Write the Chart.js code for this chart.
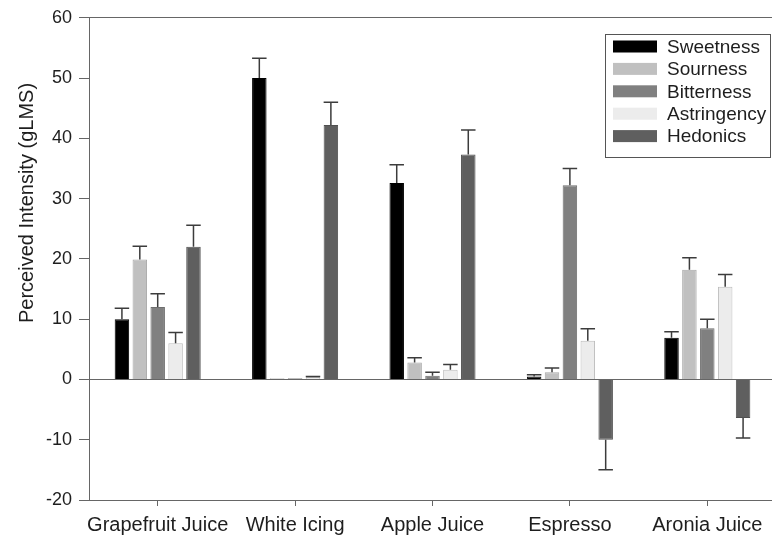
<!DOCTYPE html>
<html>
<head>
<meta charset="utf-8">
<script src="https://cdn.jsdelivr.net/npm/chart.js@4.4.1/dist/chart.umd.min.js"></script>
<style>
  html, body { margin: 0; padding: 0; background: #fff; overflow: hidden; }
  #wrap { width: 780px; height: 540px; }
</style>
</head>
<body>
<div id="wrap"><canvas id="chart"></canvas></div>
<script>
// categories and tick setup
const categories = ['Grapefruit Juice', 'White Icing', 'Apple Juice', 'Espresso', 'Aronia Juice'];
const yMin = -20;
const yMax = 60;
const yStep = 10;

// mean ratings (gLMS)
const sweetness   = [10.0, 50.0, 32.6, 0.5, 6.9];
const sourness    = [19.9, 0.2, 2.8, 1.2, 18.2];
const bitterness  = [12.0, 0.2, 0.6, 32.2, 8.5];
const astringency = [6.0, 0.4, 1.6, 6.4, 15.4];
const hedonics    = [22.0, 42.2, 37.3, -10.0, -6.4];

// error bar lengths (one-sided, drawn away from zero)
const sweetnessErr   = [1.8, 3.3, 3.0, 0.3, 1.0];
const sournessErr    = [2.2, 0, 0.8, 0.7, 2.0];
const bitternessErr  = [2.2, 0, 0.6, 2.8, 1.5];
const astringencyErr = [1.8, 0.1, 0.9, 2.0, 2.0];
const hedonicsErr    = [3.6, 3.8, 4.1, 5.0, 3.3];

Chart.defaults.font.family = 'Arial, "Liberation Sans", sans-serif';
Chart.defaults.color = '#1e1e1e';

const errorBars = {
    id: 'errorBars',
    afterDatasetsDraw(chart) {
        const { ctx } = chart;
        const y = chart.scales.y;
        ctx.save();
        ctx.strokeStyle = '#3c3c3c';
        ctx.lineWidth = 1.5;
        chart.data.datasets.forEach((ds, i) => {
            const meta = chart.getDatasetMeta(i);
            meta.data.forEach((bar, j) => {
                const v = ds.data[j];
                const e = ds.errors[j];
                if (!e) return;
                const end = y.getPixelForValue(v >= 0 ? v + e : v - e);
                const half = bar.width / 2;
                ctx.beginPath();
                ctx.moveTo(bar.x, bar.y);
                ctx.lineTo(bar.x, end);
                ctx.moveTo(bar.x - half, end);
                ctx.lineTo(bar.x + half, end);
                ctx.stroke();
            });
        });
        ctx.restore();
    }
};

// legend box inside the plot + rotated y title
const boxLegend = {
    id: 'boxLegend',
    afterDraw(chart) {
        const { ctx } = chart;
        ctx.save();
        ctx.strokeStyle = '#555';
        ctx.lineWidth = 1;
        ctx.strokeRect(605.5, 34.5, 165, 123);
        ctx.font = '19px Arial, "Liberation Sans", sans-serif';
        ctx.textBaseline = 'middle';
        chart.data.datasets.forEach((ds, i) => {
            const cy = 46.5 + i * 22.4;
            ctx.fillStyle = ds.backgroundColor;
            ctx.fillRect(613, cy - 6, 44, 12);
            ctx.fillStyle = '#1e1e1e';
            ctx.fillText(ds.label, 667, cy + 1);
        });

        ctx.font = '20px Arial, "Liberation Sans", sans-serif';
        ctx.translate(27, 203);
        ctx.rotate(-Math.PI / 2);
        ctx.textAlign = 'center';
        ctx.fillText('Perceived Intensity (gLMS)', 0, 0);
        ctx.restore();
    }
};

const makeSet = (label, data, errors, fill, border) => ({
    label: label,
    data: data,
    errors: errors,
    backgroundColor: fill,
    borderColor: border,
    borderWidth: 1,
    categoryPercentage: 0.651,
    barPercentage: 0.81
});

new Chart(document.getElementById('chart').getContext('2d'), {
    type: 'bar',
    data: {
        labels: categories,
        datasets: [
            makeSet('Sweetness', sweetness, sweetnessErr, '#000000', '#000000'),
            makeSet('Sourness', sourness, sournessErr, '#c0c0c0', '#a8a8a8'),
            makeSet('Bitterness', bitterness, bitternessErr, '#808080', '#6e6e6e'),
            makeSet('Astringency', astringency, astringencyErr, '#ececec', '#bdbdbd'),
            makeSet('Hedonics', hedonics, hedonicsErr, '#5f5f5f', '#505050')
        ]
    },
    options: {
        responsive: true,
        maintainAspectRatio: false,
        animation: false,
        layout: { padding: { top: 4, right: 4, left: 0, bottom: 0 } },
        plugins: {
            legend: { display: false },
            tooltip: { enabled: false }
        },
        scales: {
            x: {
                afterFit: (s) => { s.height = 40; },
                grid: {
                    offset: false,
                    drawOnChartArea: false,
                    tickLength: 6,
                    tickColor: '#666'
                },
                border: { color: '#666' },
                ticks: { font: { size: 20 }, padding: 7, maxRotation: 0, autoSkip: false }
            },
            y: {
                min: yMin,
                max: yMax,
                afterFit: (s) => { s.width = 89; },
                grid: {
                    color: (c) => (c.tick && (c.tick.value === 0 || c.tick.value === yMax)) ? '#666' : 'rgba(0,0,0,0)',
                    tickColor: '#666',
                    tickLength: 10
                },
                border: { color: '#666' },
                ticks: { stepSize: yStep, font: { size: 18 }, padding: 7 }
            }
        }
    },
    plugins: [errorBars, boxLegend]
});
</script>
</body>
</html>
